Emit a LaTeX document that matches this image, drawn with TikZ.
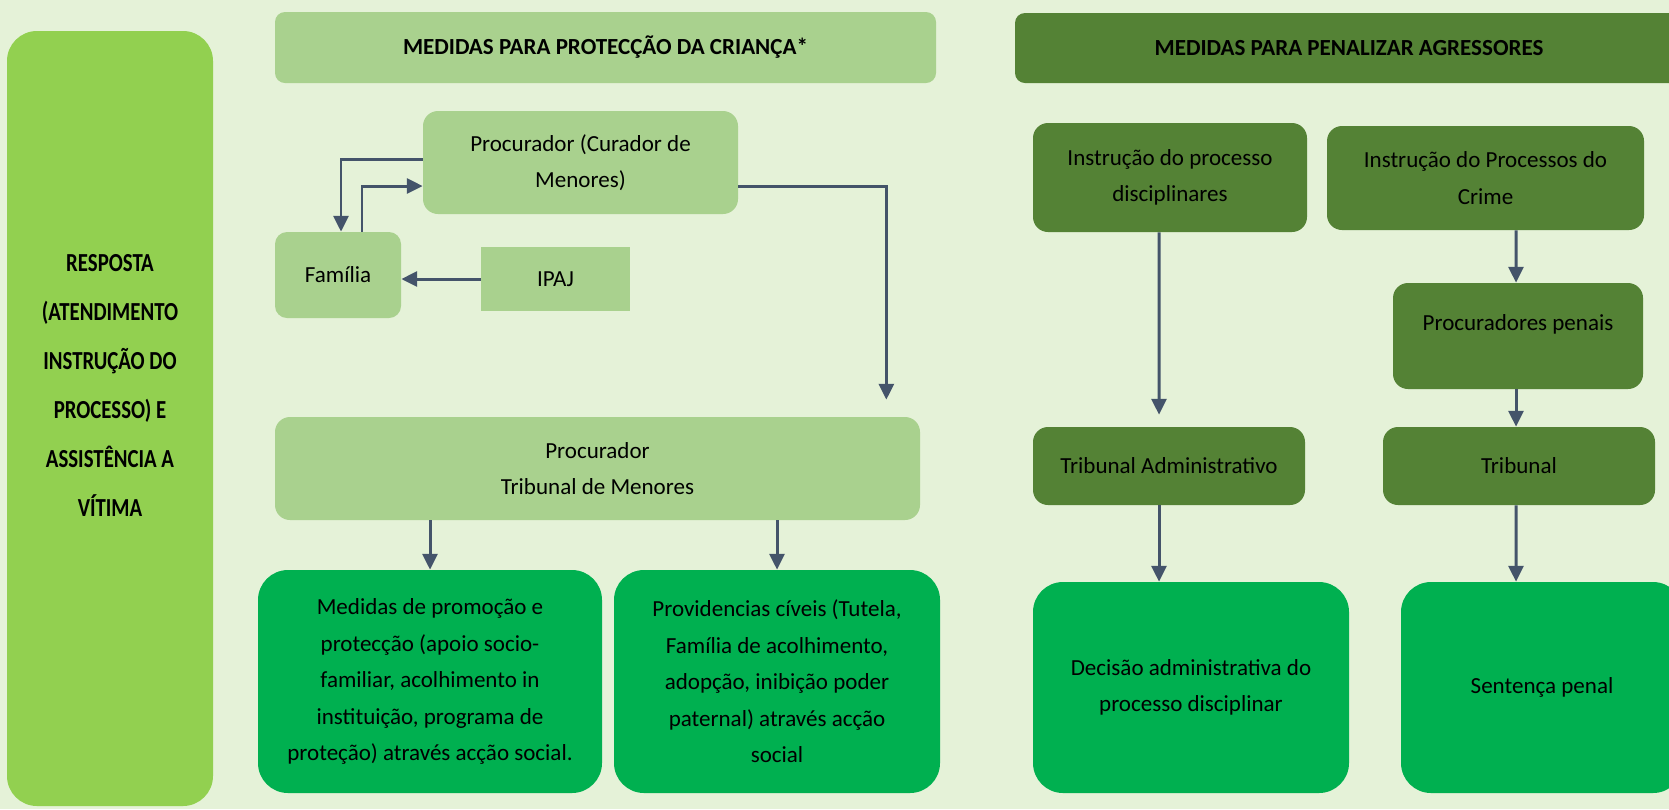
\documentclass[tikz,border=0pt]{standalone}
\usepackage{fontspec}
\setmainfont{Carlito}
\newfontfamily\respfont[FakeStretch=0.8]{Carlito}
\usetikzlibrary{arrows.meta}

\definecolor{bgc}{HTML}{E5F2D8}
\definecolor{limegrn}{HTML}{92D050}
\definecolor{palegrn}{HTML}{A9D18E}
\definecolor{darkgrn}{HTML}{548235}
\definecolor{brightgrn}{HTML}{00B050}
\definecolor{arwc}{HTML}{44546A}

\tikzstyle{arw} = [-{Triangle[length=9pt,width=8.5pt]}, line width=1.7pt, draw=arwc]
\tikzstyle{box} = [inner sep=0pt, align=center, font=\fontsize{13.1}{20.8}\selectfont]
\tikzstyle{pale} = [box, fill=palegrn, rounded corners=0.3cm]
\tikzstyle{dark} = [box, fill=darkgrn, rounded corners=0.3cm]
\tikzstyle{bright} = [box, fill=brightgrn, rounded corners=0.6cm]
\tikzstyle{hdr} = [box, rounded corners=0.2cm, font=\fontsize{13.1}{16}\selectfont\bfseries]

\begin{document}
\begin{tikzpicture}

\useasboundingbox (0,0) rectangle (33.38,-16.18);
\clip (0,0) rectangle (33.38,-16.18);
\fill [bgc] (0,0) rectangle (33.38,-16.18);

\node [box, fill=limegrn, rounded corners=0.6cm, minimum width=4.12cm, minimum height=15.50cm] (resposta) at (2.20,-8.37) {};
\node [box, font=\respfont\fontsize{14.8}{27.9}\selectfont\bfseries] (respostatxt) at (2.20,-7.71)
{RESPOSTA\\(ATENDIMENTO\\INSTRUÇÃO DO\\PROCESSO) E\\ASSISTÊNCIA A\\VÍTIMA};

\node [hdr, fill=palegrn, minimum width=13.22cm, minimum height=1.42cm] (hdrA) at (12.11,-0.95) {MEDIDAS PARA PROTECÇÃO DA CRIANÇA*};
\node [hdr, fill=darkgrn, minimum width=13.36cm, minimum height=1.40cm] (hdrB) at (26.98,-0.96) {MEDIDAS PARA PENALIZAR AGRESSORES};

\node [pale, minimum width=6.30cm, minimum height=2.06cm] (curador) at (11.61,-3.25) {Procurador (Curador de\\Menores)};
\node [pale, rounded corners=0.24cm, minimum width=2.52cm, minimum height=1.72cm] (familia) at (6.76,-5.50) {Família};
\node [box, fill=palegrn, minimum width=2.98cm, minimum height=1.28cm] (ipaj) at (11.11,-5.58) {IPAJ};
\node [pale, minimum width=12.90cm, minimum height=2.06cm] (tmenores) at (11.95,-9.37) {Procurador\\Tribunal de Menores};
\node [bright, minimum width=6.88cm, minimum height=4.46cm] (medidas) at (8.60,-13.63)
{Medidas de promoção e\\protecção (apoio socio-\\familiar, acolhimento in\\instituição, programa de\\proteção) através acção social.};
\node [bright, minimum width=6.52cm, minimum height=4.46cm] (providencias) at (15.54,-13.63)
{Providencias cíveis (Tutela,\\Família de acolhimento,\\adopção, inibição poder\\paternal) através acção\\social};

\node [dark, minimum width=5.48cm, minimum height=2.18cm] (idisc) at (23.40,-3.55) {Instrução do processo\\disciplinares};
\node [dark, minimum width=6.34cm, minimum height=2.08cm] (icrime) at (29.71,-3.56) {Instrução do Processos do\\Crime};
\node [dark, minimum width=5.00cm, minimum height=2.12cm, font=\fontsize{13.1}{15}\selectfont] (ppenais) at (30.36,-6.72) {Procuradores penais\\\mbox{}};
\node [dark, minimum width=5.44cm, minimum height=1.56cm] (tadm) at (23.38,-9.32) {Tribunal Administrativo};
\node [dark, minimum width=5.44cm, minimum height=1.56cm] (tribunal) at (30.38,-9.32) {Tribunal};
\node [bright, minimum width=6.32cm, minimum height=4.22cm] (decisao) at (23.82,-13.75) {Decisão administrativa do\\processo disciplinar};
\node [bright, minimum width=5.64cm, minimum height=4.22cm] (sentenca) at (30.84,-13.75) {Sentença penal};

\coordinate (tmin) at ([xshift=-0.68cm,yshift=0.34cm]tmenores.north east);

\draw[arw] ([yshift=0.07cm]curador.west) -| ([xshift=0.06cm]familia.north);
\draw[arw] ([xshift=0.48cm]familia.north) |- ([yshift=-0.47cm]curador.west);
\draw[arw] (ipaj.west) -- (ipaj.west -| familia.east);
\draw[arw] ([yshift=-0.47cm]curador.east) -| (tmin);
\draw[arw] (tmenores.south -| medidas.north) -- (medidas.north);
\draw[arw] (tmenores.south -| providencias.north) -- (providencias.north);

\draw[arw] ([xshift=-0.22cm]idisc.south) -- ([xshift=-0.20cm,yshift=0.24cm]tadm.north);
\draw[arw] ([xshift=-0.2cm]tadm.south) -- ([xshift=-0.64cm]decisao.north);
\draw[arw] ([xshift=0.61cm]icrime.south) -- ([xshift=-0.04cm]ppenais.north);
\draw[arw] ([xshift=-0.04cm]ppenais.south) -- ([xshift=-0.06cm]tribunal.north);
\draw[arw] ([xshift=-0.06cm]tribunal.south) -- ([xshift=-0.52cm]sentenca.north);

\end{tikzpicture}
\end{document}
